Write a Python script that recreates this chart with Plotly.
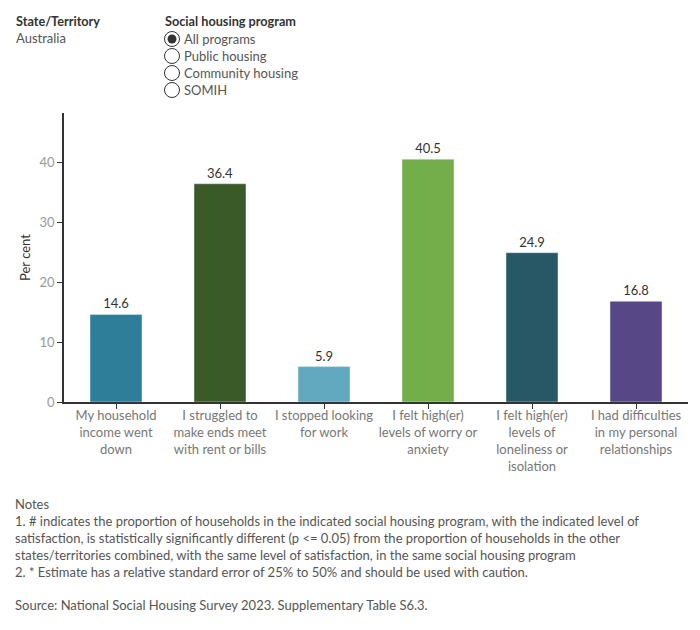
import plotly.graph_objects as go

categories = [
    "My household<br>income went<br>down",
    "I struggled to<br>make ends meet<br>with rent or bills",
    "I stopped looking<br>for work",
    "I felt high(er)<br>levels of worry or<br>anxiety",
    "I felt high(er)<br>levels of<br>loneliness or<br>isolation",
    "I had difficulties<br>in my personal<br>relationships",
]
values = [14.6, 36.4, 5.9, 40.5, 24.9, 16.8]
colors = ["#2E7D99", "#3A5A27", "#62A8BE", "#74AE4A", "#285766", "#574786"]
programs = ["All programs", "Public housing", "Community housing", "SOMIH"]
selected_program = "All programs"

W, H = 700, 630
L, R, T, B = 64, 12, 113, 228
PW, PH = W - L - R, H - T - B

def px(x):
    return (x - L) / PW

def py(y):
    return (H - B - y) / PH

FONT = "Lato"
FS = 13

fig = go.Figure(go.Bar(
    x=list(range(len(categories))), y=values, marker_color=colors, width=0.5,
    text=[f"{v:.1f}" for v in values], textposition="outside",
    textfont=dict(size=FS, color="#333333", family=FONT), cliponaxis=False,
    hoverinfo="skip",
))

fig.update_layout(
    width=W, height=H, margin=dict(l=L, r=R, t=T, b=B),
    paper_bgcolor="white", plot_bgcolor="white", showlegend=False,
    font=dict(family=FONT, size=FS, color="#555555"),
    bargap=0.5,
)
fig.update_xaxes(
    tickmode="array", tickvals=list(range(len(categories))), ticktext=categories,
    range=[-0.5, len(categories) - 0.5],
    showline=True, linecolor="#333333", linewidth=1.5, ticks="outside",
    tickson="boundaries", ticklen=5, tickcolor="#333333", showgrid=False,
    tickfont=dict(size=FS, color="#777777"), tickangle=0, zeroline=False,
    ticklabelstandoff=-4,
)
fig.update_yaxes(
    range=[0, 48.2], tickvals=[0, 10, 20, 30, 40], showline=True,
    linecolor="#333333", linewidth=1.5, ticks="outside", ticklen=5,
    tickcolor="#333333", showgrid=False, zeroline=False,
    tickfont=dict(size=FS, color="#999999"),
    title=dict(text="Per cent", font=dict(size=FS, color="#333333"), standoff=6),
)

ann = []
def text(x, y, s, size=FS, color="#555555", bold=False):
    ann.append(dict(x=px(x), y=py(y), xref="paper", yref="paper", text=(f"<b>{s}</b>" if bold else s),
                    showarrow=False, xanchor="left", yanchor="middle",
                    font=dict(size=size, color=color, family=FONT), align="left"))

text(14, 21, "State/Territory", 12.7, "#333333", bold=True)
text(14, 38.5, "Australia", FS, "#555555")
text(163, 21, "Social housing program", 12.7, "#333333", bold=True)

shapes = []
for i, p in enumerate(programs):
    cy = 39 + i * 17
    r = 7.5
    shapes.append(dict(type="circle", xref="paper", yref="paper",
                       x0=px(172 - r), x1=px(172 + r), y0=py(cy + r), y1=py(cy - r),
                       line=dict(color="#333333", width=1), fillcolor="white"))
    if p == selected_program:
        r2 = 4.5
        shapes.append(dict(type="circle", xref="paper", yref="paper",
                           x0=px(172 - r2), x1=px(172 + r2), y0=py(cy + r2), y1=py(cy - r2),
                           line=dict(color="#333333", width=0), fillcolor="#333333"))
    text(182, cy, p, FS, "#555555")

notes = [
    "Notes",
    "1. # indicates the proportion of households in the indicated social housing program, with the indicated level of",
    "satisfaction, is statistically significantly different (p <= 0.05) from the proportion of households in the other",
    "states/territories combined, with the same level of satisfaction, in the same social housing program",
    "2. * Estimate has a relative standard error of 25% to 50% and should be used with caution.",
]
for i, n in enumerate(notes):
    text(13, 504 + i * 17, n, FS, "#555555")
text(13, 605, "Source: National Social Housing Survey 2023. Supplementary Table S6.3.", FS, "#555555")

fig.update_layout(annotations=ann, shapes=shapes)
fig.write_html("out.html")
